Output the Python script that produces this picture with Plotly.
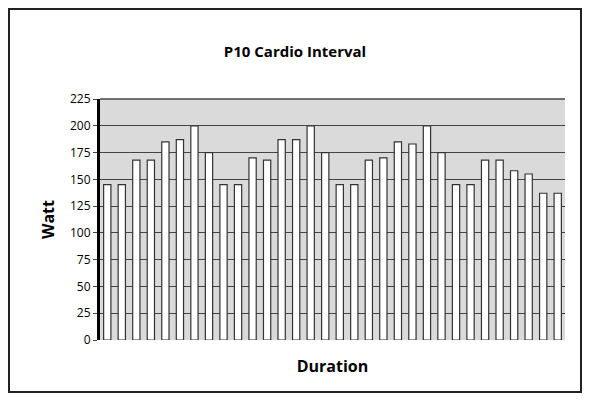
import plotly.graph_objects as go

watts = [145,145,168,168,185,187,200,175,145,145,170,168,187,187,200,175,
         145,145,168,170,185,183,200,175,145,145,168,168,158,155,137,137]
steps = list(range(1, len(watts)+1))
yticks = list(range(0, 226, 25))

W, H = 574, 385
L, R, T, B = 92, 17, 91, 53
pw, ph = W-L-R, H-T-B

fig = go.Figure(go.Bar(x=steps, y=watts, marker=dict(color="white", line=dict(color="#333", width=1.2)),
                       width=0.5))
fig.update_layout(
    width=W, height=H, margin=dict(l=L, r=R, t=T, b=B),
    paper_bgcolor="white", plot_bgcolor="#dadada", showlegend=False,
    font=dict(family="Open Sans, Liberation Sans", color="black"),
    title=dict(text="<b>P10 Cardio Interval</b>", x=0.5, xanchor="center", y=1-44/H, yanchor="middle",
               font=dict(size=15)),
)
fig.update_xaxes(range=[0.5, len(watts)+0.5], showticklabels=False, ticks="", showgrid=False,
                 title=dict(text="<b>Duration</b>", font=dict(size=16), standoff=20))
fig.update_yaxes(range=[0, 225], tickvals=yticks, showgrid=True, gridcolor="#444", gridwidth=1.3,
                 showline=True, linecolor="black", linewidth=3, ticks="outside", ticklen=4,
                 tickfont=dict(size=12), zeroline=False,
                 title=dict(text="<b>Watt</b>", font=dict(size=16), standoff=12))
fig.add_shape(type="rect", xref="paper", yref="paper",
              x0=-(L-1)/pw, x1=1+(R-1)/pw, y0=-(B-1)/ph, y1=1+(T-1)/ph,
              line=dict(color="#222", width=2))
fig.add_shape(type="line", xref="paper", yref="paper", x0=0, x1=1, y0=1, y1=1,
              line=dict(color="#444", width=1.3))
fig.write_html("out.html")
